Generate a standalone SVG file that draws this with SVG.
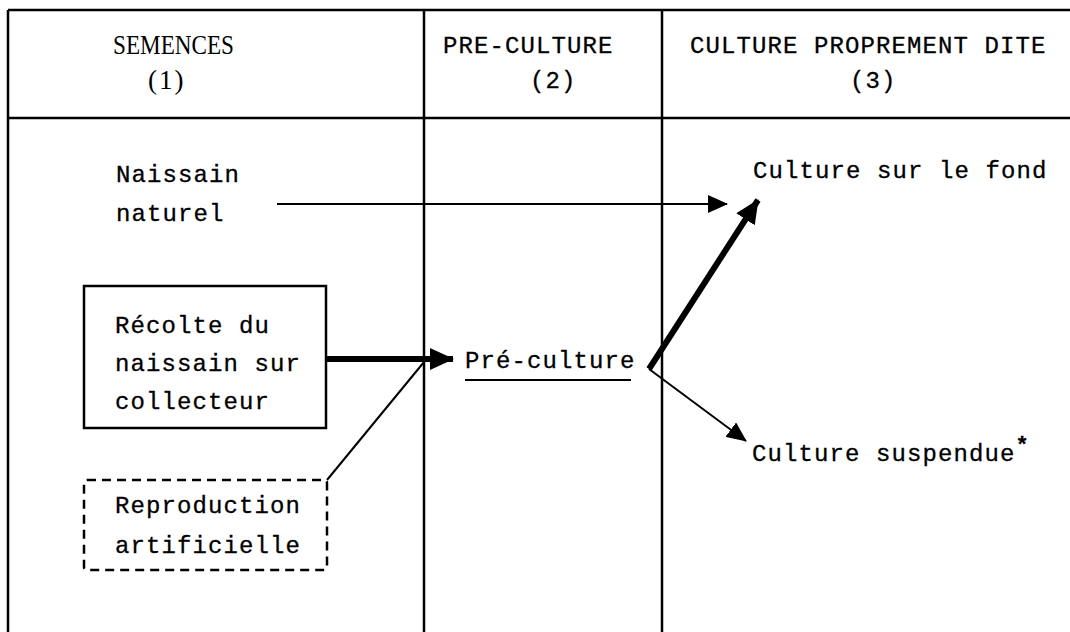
<svg xmlns="http://www.w3.org/2000/svg" width="1070" height="632" viewBox="0 0 1070 632">
<style>
.frame{stroke:#000;stroke-width:2.5;fill:none}
.t{font-family:"Liberation Mono","DejaVu Sans Mono",monospace;font-size:24px;letter-spacing:1.1px;fill:#000;stroke:#000;stroke-width:0.3}
.s{font-family:"Liberation Serif","Times New Roman",serif;font-size:27px;fill:#000}
.thin{stroke:#000;stroke-width:2;fill:none}
.thick{stroke:#000;stroke-width:6;fill:none}
.box{stroke:#000;stroke-width:2.5;fill:none}
.dash{stroke:#000;stroke-width:2.5;fill:none;stroke-dasharray:9 6}
</style>
<defs>
<marker id="ah" markerUnits="userSpaceOnUse" markerWidth="20" markerHeight="18" refX="19" refY="9" orient="auto"><path d="M0,0 L20,9 L0,18 Z" fill="#000"/></marker>
<marker id="ahb" markerUnits="userSpaceOnUse" markerWidth="24" markerHeight="22" refX="23" refY="11" orient="auto"><path d="M0,0 L24,11 L0,22 Z" fill="#000"/></marker>
</defs>
<g id="table">
<path class="frame" d="M8,10 H1070 M8,10 V632 M424,10 V632 M662,10 V632 M8,118 H1070"/>
<text class="s" x="113" y="54" textLength="121" lengthAdjust="spacingAndGlyphs">SEMENCES</text>
<text class="s" x="148" y="89" letter-spacing="2">(1)</text>
<text class="t" x="443" y="53">PRE-CULTURE</text>
<text class="t" x="530" y="88">(2)</text>
<text class="t" x="690" y="53">CULTURE PROPREMENT DITE</text>
<text class="t" x="850" y="88">(3)</text>
</g>
<g id="naissain-naturel">
<text class="t" x="116" y="182">Naissain</text>
<text class="t" x="116" y="221">naturel</text>
</g>
<g id="recolte">
<rect class="box" x="84" y="286" width="242" height="142"/>
<text class="t" x="115" y="333">Récolte du</text>
<text class="t" x="115" y="371">naissain sur</text>
<text class="t" x="115" y="409">collecteur</text>
</g>
<g id="reproduction">
<rect class="dash" x="84" y="480" width="243" height="90" rx="3"/>
<text class="t" x="115" y="513">Reproduction</text>
<text class="t" x="115" y="553">artificielle</text>
</g>
<g id="preculture">
<text class="t" x="465" y="368">Pré-culture</text>
<path class="thin" d="M465,380 H631"/>
</g>
<g id="culture-fond">
<text class="t" x="753" y="178">Culture sur le fond</text>
</g>
<g id="culture-suspendue">
<text class="t" x="752" y="461">Culture suspendue<tspan font-size="22" font-weight="bold" dy="-9" letter-spacing="0">*</tspan></text>
</g>
<g id="connectors">
<path class="thin" d="M277,204 H727" marker-end="url(#ah)"/>
<path class="thick" d="M326,359 H453" marker-end="url(#ahb)"/>
<path class="thin" d="M327,480 L424,362"/>
<path class="thick" d="M649,369 L758,200" marker-end="url(#ahb)"/>
<path class="thin" d="M649,369 L746,441" marker-end="url(#ah)"/>
</g>
</svg>
